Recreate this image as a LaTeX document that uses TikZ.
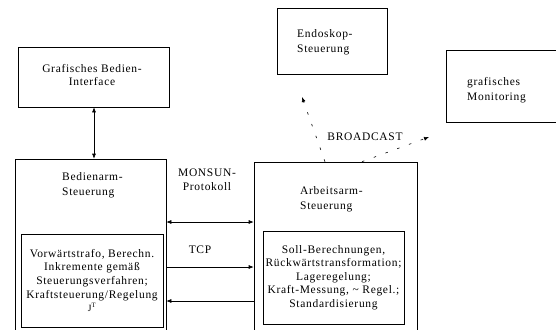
\documentclass[tikz,border=0pt]{standalone}
\usepackage{fontspec}
\setmainfont{Liberation Serif}[LetterSpace=6]
\usetikzlibrary{arrows.meta}

\tikzset{
    box/.style={draw, line width=0.6pt, inner sep=0pt},
    lbl/.style={font=\fontsize{11.5}{15}\selectfont, align=left, inner sep=0pt},
    ctr/.style={font=\fontsize{11.5}{13.6}\selectfont, align=center, inner sep=0pt},
    link/.style={line width=0.6pt, -{Latex[length=5pt,width=4pt]}},
    bcast/.style={link, dash pattern=on 2.5pt off 10pt}
}

\begin{document}
\begin{tikzpicture}[x=1pt,y=-1pt]
    \useasboundingbox (0,0) rectangle (556,329);
    \clip (0,0) rectangle (556,329);

    % upper boxes
    \node[box, minimum width=151pt, minimum height=60pt] (gui) at (93.5,77) {};
    \node[ctr] (guitext) at (92,75) {Grafisches Bedien-\\Interface};

    \node[box, minimum width=110pt, minimum height=66pt] (endo) at (332,41) {};
    \node[lbl, anchor=west] (endotext) at (297,42) {Endoskop-\\Steuerung};

    \node[box, minimum width=130pt, minimum height=72pt] (moni) at (511,86) {};
    \node[lbl, anchor=west] (monitext) at (467,90.5) {grafisches\\Monitoring};

    % lower boxes (run past the lower edge)
    \node[box, minimum width=151pt, minimum height=181pt] (bedien) at (90.5,249.5) {};
    \node[lbl, anchor=west] (bedientext) at (62,185) {Bedienarm-\\Steuerung};
    \node[box, minimum width=142pt, minimum height=93pt, ctr] (bedieninner) at (92,280.5)
        {Vorwärtstrafo, Berechn.\\Inkremente gemäß\\Steuerungsverfahren;\\Kraftsteuerung/Regelung\\{\fontsize{9.5}{9.5}\selectfont J\textsuperscript{T}}};

    \node[box, minimum width=163pt, minimum height=178pt] (arbeit) at (335.5,251) {};
    \node[lbl, anchor=west] (arbeittext) at (300,199.5) {Arbeitsarm-\\Steuerung};
    \node[box, minimum width=141pt, minimum height=93pt, ctr] (arbeitinner) at (333.5,277.5)
        {Soll-Berechnungen,\\Rückwärtstransformation;\\Lageregelung;\\Kraft-Messung, \textasciitilde\ Regel.;\\Standardisierung};

    % connections
    \draw[link, {Latex[length=5pt,width=4pt]}-{Latex[length=5pt,width=4pt]}] (gui.south -| 94,0) -- (bedien.north -| 94,0);

    \coordinate (monsun) at (0,222);
    \coordinate (tcp) at (0,267);
    \coordinate (back) at (0,301);
    \draw[link, {Latex[length=5pt,width=4pt]}-{Latex[length=5pt,width=4pt]}] (bedien.east |- monsun) -- (arbeit.west |- monsun);
    \draw[link] (bedien.east |- tcp) -- (arbeit.west |- tcp);
    \draw[link] (arbeit.west |- back) -- (bedien.east |- back);

    \node[ctr] (monsuntext) at (207,179.5) {MONSUN-\\Protokoll};
    \node[ctr] (tcptext) at (200,250) {TCP};

    % broadcast
    \coordinate (toendo) at (302,97);
    \coordinate (tomoni) at (429,137);
    \draw[bcast] (arbeit.north -| 325,0) -- (toendo);
    \draw[bcast] (arbeit.north -| 362,0) -- (tomoni);
    \node[ctr] (bctext) at (365,137) {BROADCAST};
\end{tikzpicture}
\end{document}
